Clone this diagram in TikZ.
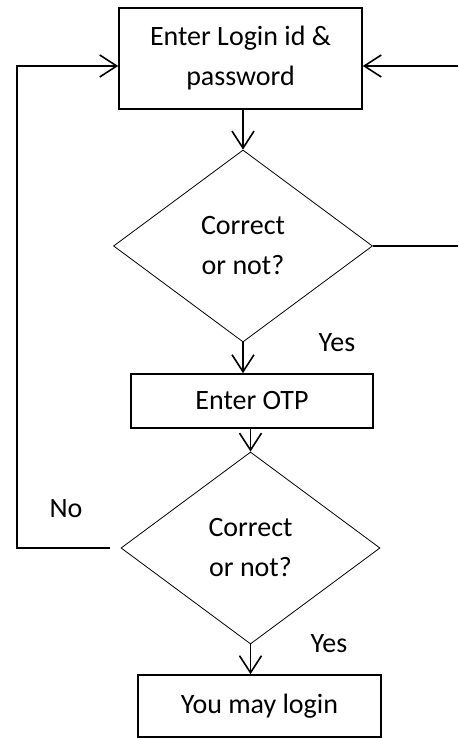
\documentclass[tikz,border=0pt]{standalone}
\usepackage{fontspec}
\setmainfont{Carlito}
\usetikzlibrary{shapes.geometric,arrows.meta,calc}

\begin{document}
\begin{tikzpicture}[x=1pt,y=1pt,font=\fontsize{28}{40}\selectfont,
    box/.style={draw,line width=1.6pt,align=center,inner sep=0pt},
    decision/.style={draw,diamond,line width=0.8pt,align=center,inner sep=0pt,minimum width=259pt,minimum height=192pt},
    flow/.style={line width=1.6pt},
    arr/.style={flow,-{Straight Barb[length=17pt,width=22pt]}}]

    \useasboundingbox (0,0) rectangle (458,738);

    \node[box,minimum width=243pt,minimum height=101pt] (login) at (240.5,679.5) {Enter Login id \&\\password};
    \node[decision] (check1) at (243,492) {Correct\\or not?};
    \node[box,minimum width=242pt,minimum height=54pt] (otp) at (252,337) {Enter OTP};
    \node[decision] (check2) at (250.5,190) {Correct\\or not?};
    \node[box,minimum width=243pt,minimum height=62pt] (done) at (259.5,32) {You may login};

    \node (yes1) at (337,395) {Yes};
    \node (yes2) at (329,94) {Yes};
    \node (no) at (66,229.5) {No};

    \coordinate (back) at (17,672);
    \coordinate (edge) at (458,672);

    \draw[arr] (login.south -| check1.north) -- (check1.north);
    \draw[arr] (check1.south) -- (check1.south |- otp.north);
    \draw[arr] (otp.south -| check2.north) -- (check2.north);
    \draw[arr] (check2.south) -- (check2.south |- done.north);
    \draw[arr] ([xshift=-11pt]check2.west) -| (back) -- (back -| login.west);
    \draw[flow] (check1.east) -- (check1.east -| edge);
    \draw[arr] (edge) -- (edge -| login.east);
\end{tikzpicture}
\end{document}
